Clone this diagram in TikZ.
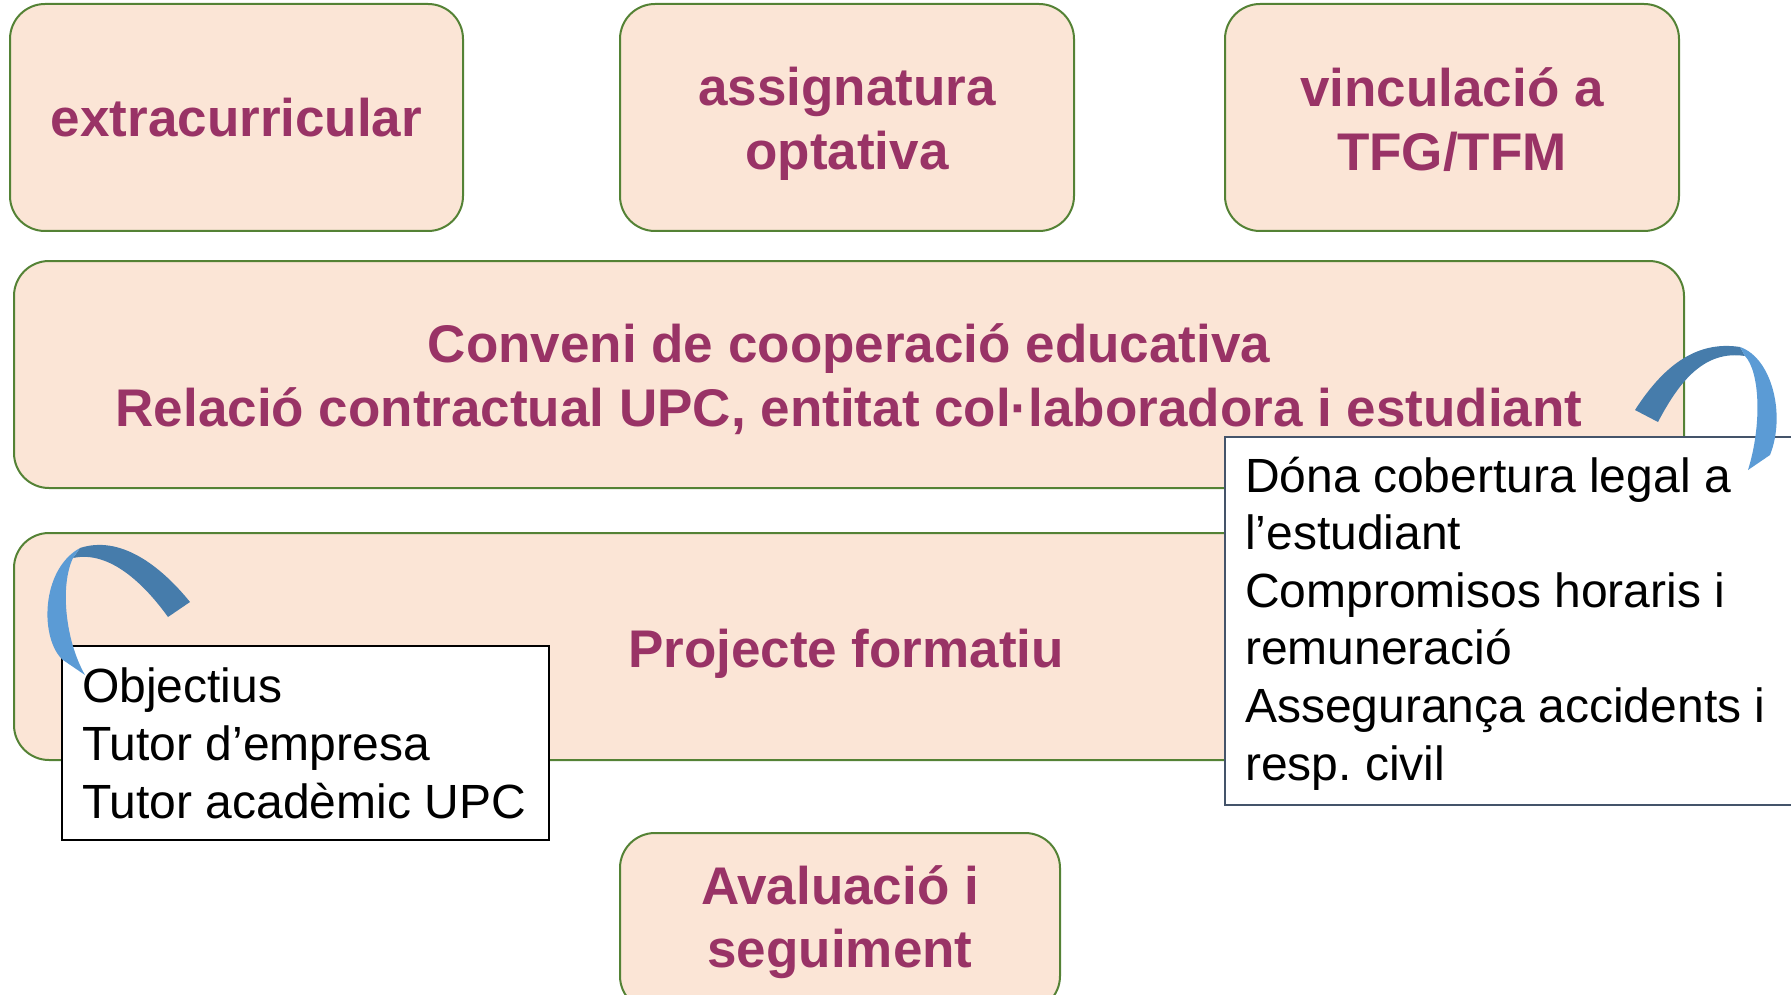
\documentclass[tikz,border=0pt]{standalone}
\usepackage{fontspec}
\setmainfont{Liberation Sans}
\definecolor{boxgreen}{HTML}{548235}
\definecolor{boxfill}{HTML}{FBE5D6}
\definecolor{purp}{HTML}{993366}
\definecolor{bluedark}{HTML}{467CAB}
\definecolor{bluelight}{HTML}{5B9BD5}
\definecolor{slate}{HTML}{44546A}
\frenchspacing
\begin{document}
\begin{tikzpicture}[x=1pt,y=-1pt,
  greenbox/.style={draw=boxgreen, line width=2pt, fill=boxfill, rounded corners=35pt, inner sep=0pt},
  purptext/.style={inner sep=0pt, font=\fontsize{53}{63.6}\selectfont\bfseries, text=purp, align=center},
  callout/.style={fill=white, line width=2pt, inner sep=0pt},
  callouttext/.style={inner sep=0pt, anchor=base west, align=left, font=\fontsize{48}{57.6}\selectfont, text=black}]
\useasboundingbox (0,0) rectangle (1791,995);
\clip (0,0) rectangle (1791,995);

\node[greenbox, minimum width=453, minimum height=227] (extra) at (236.5,117.5) {};
\node[purptext] (extrat) at (236.5,117.5) {extracurricular};
\node[greenbox, minimum width=454, minimum height=227] (opt) at (847,117.5) {};
\node[purptext] (optt) at (847,123.5) {assignatura\\optativa};
\node[greenbox, minimum width=454, minimum height=227] (tfg) at (1452,117.5) {};
\node[purptext] (tfgt) at (1452,119.5) {vinculació a\\TFG/TFM};
\node[greenbox, minimum width=1670, minimum height=227] (conv) at (849,374.5) {};
\node[purptext] (convt) at (849,379) {Conveni de cooperació educativa\\Relació contractual UPC, entitat col·laboradora i estudiant};
\node[greenbox, minimum width=1670, minimum height=227] (proj) at (849,646.5) {};
\node[purptext] (projt) at (846,653.5) {Projecte formatiu};
\node[greenbox, minimum width=440, minimum height=178] (aval) at (840,922) {};
\node[purptext] (avalt) at (840,922) {Avaluació i\\seguiment};

\node[callout, draw=black, minimum width=487, minimum height=194] (lbox) at (305.5,743) {};
\node[callouttext] (ltext) at (82,818) {Objectius\\Tutor d’empresa\\Tutor acadèmic UPC};

\node[callout, draw=slate, minimum width=590, minimum height=368] (rbox) at (1520,621) {};
\node[callouttext] (rtext) at (1245,780) {Dóna cobertura legal a\\l’estudiant\\Compromisos horaris i\\remuneració\\Assegurança accidents i\\resp. civil};

% right curved ribbon
\fill[bluedark] (1635,410) .. controls (1662,368) and (1695,340) .. (1740,347) -- (1745,356) .. controls (1705,350) and (1680,380) .. (1658,422) -- cycle;
\fill[bluelight] (1740,347) .. controls (1772,358) and (1786,415) .. (1770,455) -- (1748,470) .. controls (1762,425) and (1760,372) .. (1745,356) -- cycle;
% left curved ribbon
\fill[bluedark] (190,602) .. controls (160,565) and (120,535) .. (80,548) -- (73,558) .. controls (110,550) and (145,585) .. (168,617) -- cycle;
\fill[bluelight] (80,548) .. controls (40,570) and (40,640) .. (63,660) -- (85,675) .. controls (65,640) and (60,585) .. (73,558) -- cycle;
\end{tikzpicture}
\end{document}
